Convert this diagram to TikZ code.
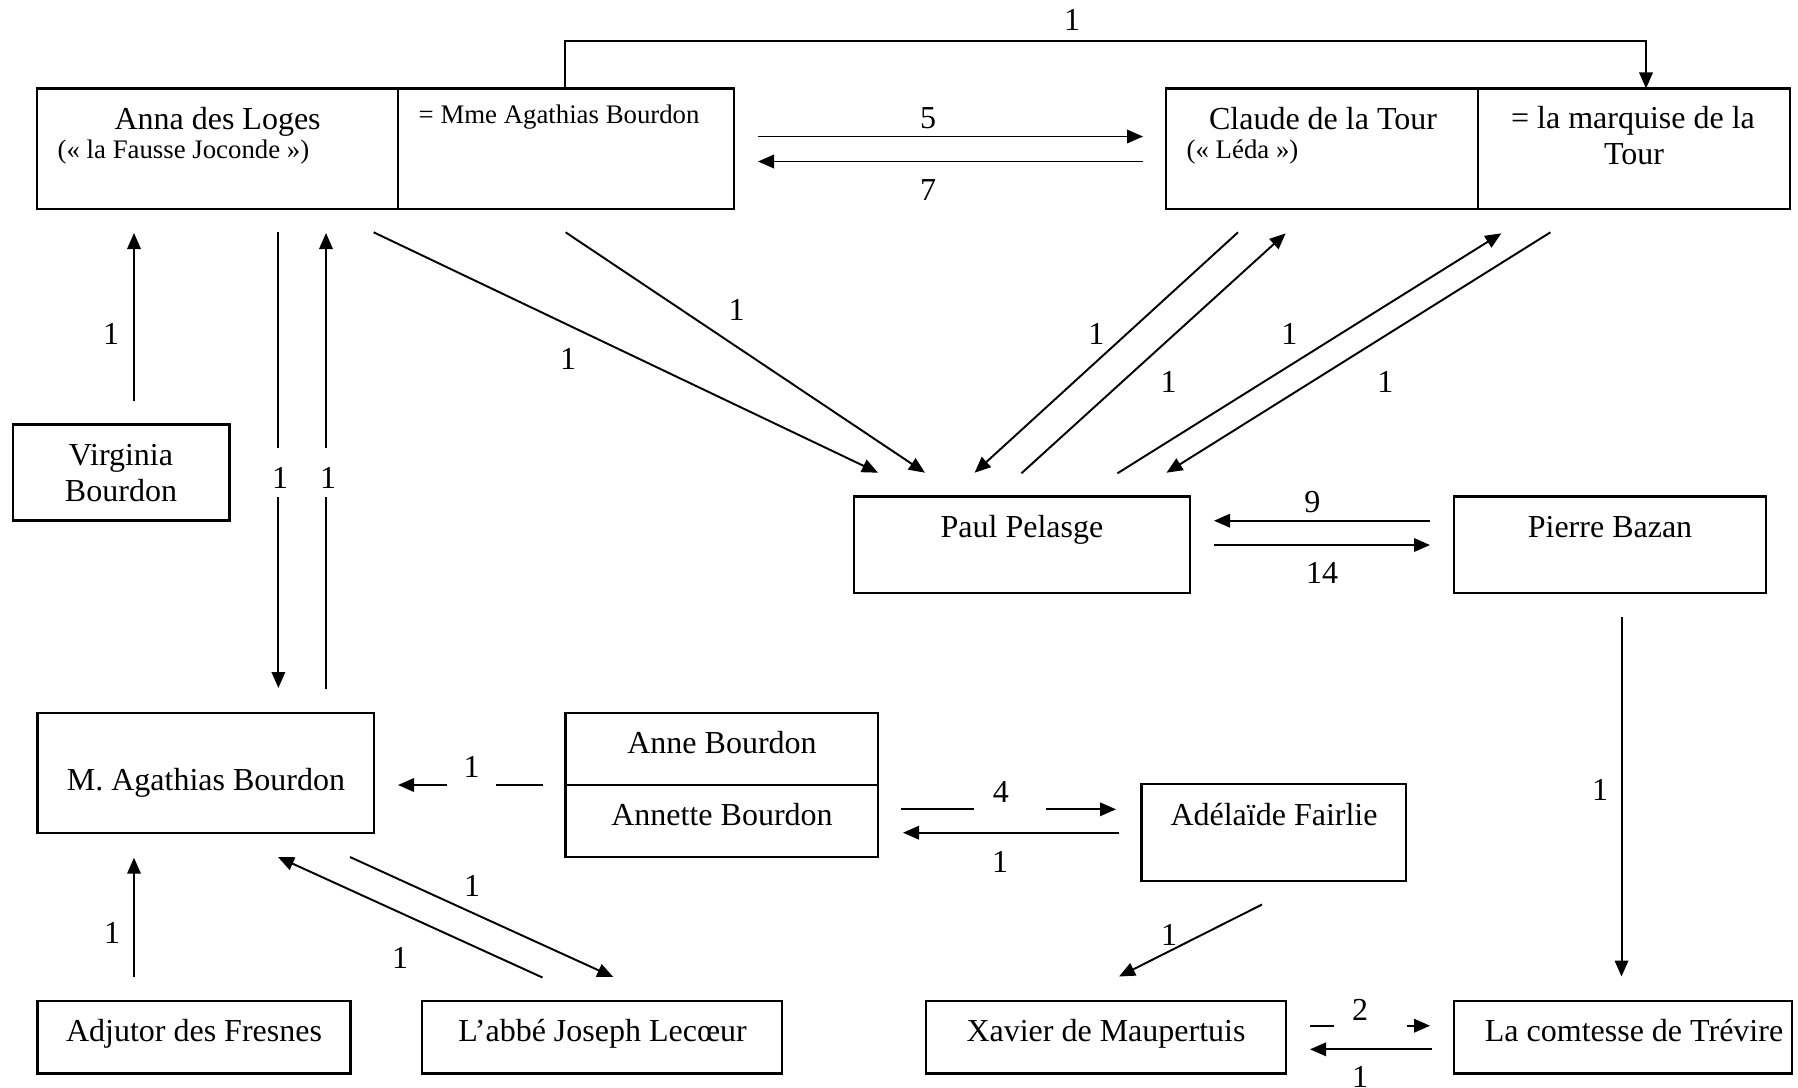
\documentclass[tikz,border=0pt]{standalone}
\usepackage{fontspec}
\setmainfont{Liberation Serif}
\usetikzlibrary{arrows.meta,fit}

\newcommand\cardfont{\fontsize{9.1pt}{10.2pt}\selectfont}
\newcommand\nickfont{\fontsize{7.62pt}{9pt}\selectfont}

\tikzset{
  every picture/.style={x=0.01cm, y=-0.01cm},
  pbox/.style={draw, line width=0.65pt, inner sep=0pt},
  cellrule/.style={line width=0.45pt},
  link/.style={line width=0.55pt, -{Triangle[length=0.16cm,width=0.135cm]}},
  who/.style={inner sep=0pt, anchor=base, font=\cardfont},
  nick/.style={inner sep=0pt, anchor=base west, font=\nickfont},
  tally/.style={inner sep=0pt, font=\cardfont},
  gaptally/.style={tally, anchor=base, fill=white},
}

\begin{document}
\begin{tikzpicture}
\useasboundingbox (0,0) rectangle (1798,1087);

% ---------- boxes ----------
\node[pbox, fit={(37,88.5) (734,209)}] (anna) {};
\draw[cellrule] (398,0 |- anna.north) -- (398,0 |- anna.south);
\node[pbox, fit={(1166,88.5) (1790,209)}] (claude) {};
\draw[cellrule] (1478,0 |- claude.north) -- (1478,0 |- claude.south);
\node[pbox, fit={(13,424.5) (229.5,520.5)}] (virginia) {};
\node[pbox, fit={(854,496.5) (1190,593)}] (paul) {};
\node[pbox, fit={(1454,496.5) (1766,593)}] (pierre) {};
\node[pbox, fit={(37.5,713) (374,833)}] (agathias) {};
\node[pbox, fit={(565.5,713) (878,856.7)}] (anne) {};
\draw[line width=0.65pt] (anne.west |- 0,785) -- (anne.east |- 0,785);
\node[pbox, fit={(1141.5,784.3) (1406,881)}] (adelaide) {};
\node[pbox, fit={(37.5,1001) (350.5,1073.5)}] (adjutor) {};
\node[pbox, fit={(422,1001) (782,1073.5)}] (abbe) {};
\node[pbox, fit={(926,1001) (1286,1073.5)}] (xavier) {};
\node[pbox, fit={(1454,1001) (1792,1073.5)}] (comtesse) {};

% ---------- names ----------
\node[who] at (217.6,129) {Anna des Loges};
\node[nick] at (57,158) {(« la Fausse Joconde »)};
\node[nick] at (418,123.5) {= Mme Agathias Bourdon};
\node[who] at (1323,129) {Claude de la Tour};
\node[nick] at (1186,158) {(« Léda »)};
\node[who] at (1633,128.5) {= la marquise de la};
\node[who] at (1634,164.5) {Tour};
\node[who] at (121,465) {Virginia};
\node[who] at (121,501.7) {Bourdon};
\node[who] at (1022,537) {Paul Pelasge};
\node[who] at (1610,537) {Pierre Bazan};
\node[who] at (206,790) {M. Agathias Bourdon};
\node[who] at (722,753) {Anne Bourdon};
\node[who] at (722,825) {Annette Bourdon};
\node[who] at (1274,825) {Adélaïde Fairlie};
\node[who] at (194,1041.7) {Adjutor des Fresnes};
\node[who] at (602.5,1041.7) {L’abbé Joseph Lecœur};
\node[who] at (1106,1041.7) {Xavier de Maupertuis};
\node[who] at (1634,1041.7) {La comtesse de Trévire};

% ---------- connector ends ----------
\coordinate (annaTop) at (565.4,88.5);
\coordinate (bend) at (1646,40.7);
\coordinate (marqTop) at (1646,88.5);
\coordinate (c5a) at (757.8,136.5);  \coordinate (c5b) at (1143,136.5);
\coordinate (c7a) at (1143,161.5);   \coordinate (c7b) at (758,161.5);
\coordinate (vA) at (134,401);       \coordinate (vB) at (134,233);
\coordinate (dnA) at (278.4,232);    \coordinate (dnB) at (278.4,688);
\coordinate (upA) at (326,689);      \coordinate (upB) at (326,233);
\coordinate (p1a) at (373.7,232.3);  \coordinate (p1b) at (878,472.7);
\coordinate (p2a) at (565.6,232.3);  \coordinate (p2b) at (925,472.7);
\coordinate (p3a) at (1238,232.3);   \coordinate (p3b) at (974.6,472.7);
\coordinate (p4a) at (1021.4,473.3); \coordinate (p4b) at (1285.7,233.3);
\coordinate (p5a) at (1117.4,473.3); \coordinate (p5b) at (1501.3,233.3);
\coordinate (p6a) at (1550.4,232.3); \coordinate (p6b) at (1166.5,472.7);
\coordinate (c9a) at (1430,520.7);   \coordinate (c9b) at (1214,520.7);
\coordinate (c14a) at (1214,545);    \coordinate (c14b) at (1430,545);
\coordinate (bzA) at (1621.5,616.7); \coordinate (bzB) at (1621.5,976.5);
\coordinate (anA) at (542.5,785);    \coordinate (anB) at (398,785);
\coordinate (c4a) at (901.4,809.3);  \coordinate (c4b) at (1116,809.3);
\coordinate (adA) at (1119,832.7);   \coordinate (adB) at (903,832.7);
\coordinate (axA) at (1262,904.5);   \coordinate (axB) at (1119,976.5);
\coordinate (ajA) at (134,977.3);    \coordinate (ajB) at (134,857.7);
\coordinate (abA) at (542.5,977.5);  \coordinate (abB) at (278,857);
\coordinate (baA) at (350,857);      \coordinate (baB) at (613.3,977);
\coordinate (c2a) at (1309.5,1025.7); \coordinate (c2b) at (1430,1025.7);
\coordinate (ctA) at (1431.5,1049.3); \coordinate (ctB) at (1310,1049.3);

% ---------- connectors ----------
\draw[link] (annaTop) |- (bend) -- (marqTop);
\draw[link] (c5a) -- (c5b);
\draw[link] (c7a) -- (c7b);
\draw[link] (vA) -- (vB);
\draw[link] (dnA) -- (dnB);
\draw[link] (upA) -- (upB);
\draw[link] (p1a) -- (p1b);
\draw[link] (p2a) -- (p2b);
\draw[link] (p3a) -- (p3b);
\draw[link] (p4a) -- (p4b);
\draw[link] (p5a) -- (p5b);
\draw[link] (p6a) -- (p6b);
\draw[link] (c9a) -- (c9b);
\draw[link] (c14a) -- (c14b);
\draw[link] (bzA) -- (bzB);
\draw[link] (anA) -- (anB);
\draw[link] (c4a) -- (c4b);
\draw[link] (adA) -- (adB);
\draw[link] (axA) -- (axB);
\draw[link] (ajA) -- (ajB);
\draw[link] (abA) -- (abB);
\draw[link] (baA) -- (baB);
\draw[link] (c2a) -- (c2b);
\draw[link] (ctA) -- (ctB);

% ---------- counts ----------
\node[tally] at (1072,20) {1};
\node[tally] at (928,118) {5};
\node[tally] at (928,190) {7};
\node[tally] at (111,334) {1};
\node[gaptally, text height=0.40cm, text depth=0.09cm, minimum width=0.2cm] at (280,488) {1};
\node[gaptally, text height=0.40cm, text depth=0.09cm, minimum width=0.2cm] at (328,488) {1};
\node[tally] at (568,358.5) {1};
\node[tally] at (736.6,310) {1};
\node[tally] at (1096.4,333.5) {1};
\node[tally] at (1168.7,381.7) {1};
\node[tally] at (1289.3,333.5) {1};
\node[tally] at (1385.3,381.7) {1};
\node[tally] at (1312.4,501.7) {9};
\node[tally] at (1322,573.3) {14};
\node[tally] at (1600,789.5) {1};
\node[gaptally, text height=0.24cm, text depth=0.12cm, minimum width=0.48cm] at (471.5,777) {1};
\node[gaptally, text height=0.23cm, text depth=0.11cm] at (1010,802.5) {\makebox[0.725cm][l]{\hspace{0.19cm}4}};
\node[tally] at (1000,862) {1};
\node[tally] at (1169,935) {1};
\node[tally] at (112,933.3) {1};
\node[tally] at (400,958) {1};
\node[tally] at (472,886) {1};
\node[gaptally, text height=0.23cm, text depth=0.09cm] at (1370.5,1020.8) {\makebox[0.73cm][l]{\hspace{0.18cm}2}};
\node[tally] at (1360,1077) {1};
\end{tikzpicture}
\end{document}
